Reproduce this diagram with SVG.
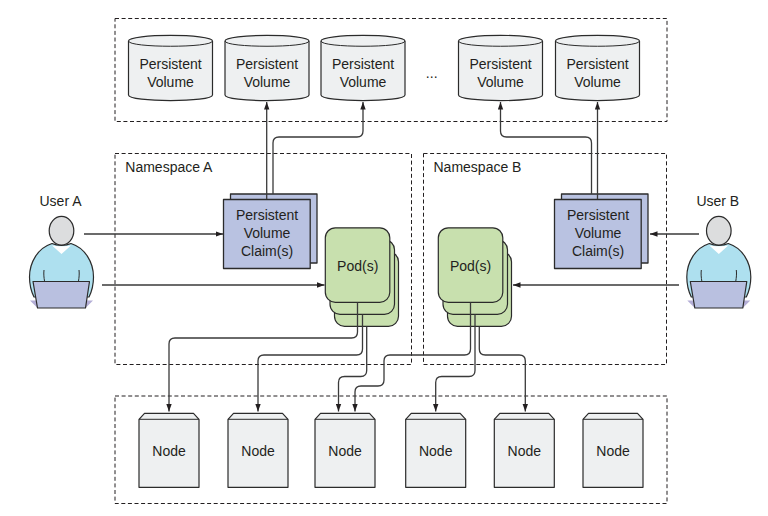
<svg xmlns="http://www.w3.org/2000/svg" width="768" height="516" viewBox="0 0 768 516">
<style>
text{font-family:"Liberation Sans",Arial,sans-serif;font-size:14px;fill:#231f20;text-anchor:middle}
.zone{fill:none;stroke:#231f20;stroke-width:1;stroke-dasharray:4 2.6}
.zl{text-anchor:start}
.shape{stroke:#2b2b2b;stroke-width:1.2;stroke-linejoin:round}
.cyl{fill:#eef0f1}
.pvc{fill:#b9c2e1;stroke-width:1.3}
.pod{fill:#c8e0ae}
.box{fill:#eef0f1}
.c{fill:none;stroke:#3a3a3a;stroke-width:1.3;marker-end:url(#a)}
.head{fill:#dcddde}
.body{fill:#aee0ef}
.lap{fill:#b9c0e0}
.tri{fill:#b4aed6}
.thin{fill:none;stroke:#2b2b2b;stroke-width:1}
</style>
<defs>
<marker id="a" markerUnits="userSpaceOnUse" markerWidth="8" markerHeight="6" refX="7.5" refY="3" orient="auto"><path d="M0 0.3L7.5 3L0 5.7Z" fill="#231f20"/></marker>
<g id="cylinder"><path class="shape cyl" d="M0 6C0 -1.5 84 -1.5 84 6V60C84 67.5 0 67.5 0 60Z"/><path class="thin" d="M0 6C0 13 84 13 84 6"/></g>
<g id="nodebox"><path class="shape box" d="M0 6L5.500 0H54.500L60 6V74H0Z"/><path class="thin" d="M0 6H60"/></g>
<g id="stack"><rect class="shape pod" x="9.200" y="24" width="64" height="74.500" rx="10"/><rect class="shape pod" x="4.700" y="12" width="64.500" height="74.500" rx="10"/><rect class="shape pod" x="0" y="0" width="64.500" height="74.500" rx="10"/></g>
<g id="claim"><rect class="shape pvc" x="7" y="-5.500" width="86.500" height="69"/><rect class="shape pvc" x="0" y="0" width="86.700" height="69"/></g>
<g id="person">
<path class="shape tri" style="stroke:none" d="M30 300.500H37.500V308ZM93 300.500H85.500V308Z"/>
<path class="shape body" d="M52 243.500C38 248 29.500 262 29.500 277C29.500 284 31 291 34 297H89C92 291 93.500 284 93.500 277C93.500 262 85 248 71 243.500C66 246 57 246 52 243.500Z"/>
<path d="M52 245.500L61.500 254L71 245.500C66 246.500 57 246.500 52 245.500Z" fill="#fff"/>
<ellipse class="shape head" cx="61.500" cy="230.700" rx="12.300" ry="14.300"/>
<path class="thin" d="M44 270C43.500 274 44 278 44.500 281M79 270C79.500 274 79 278 78.500 281"/>
<path class="shape lap" d="M33 281.500H89.500L85.500 308H37.500Z"/>
</g>
</defs>
<g id="pv-zone"><rect class="zone" x="115" y="18.500" width="552" height="103"/></g>
<g id="namespace-a"><rect class="zone" x="115" y="153.500" width="296.500" height="211"/><text class="zl" x="125.300" y="172">Namespace A</text></g>
<g id="namespace-b"><rect class="zone" x="423.500" y="153.500" width="243" height="211"/><text class="zl" x="433.500" y="172">Namespace B</text></g>
<g id="node-zone"><rect class="zone" x="115" y="396" width="552" height="107.500"/></g>
<g id="pv1"><use href="#cylinder" x="128.500" y="35"/><text x="170.500" y="69">Persistent</text><text x="170.500" y="87">Volume</text></g>
<g id="pv2"><use href="#cylinder" x="225" y="35"/><text x="267" y="69">Persistent</text><text x="267" y="87">Volume</text></g>
<g id="pv3"><use href="#cylinder" x="321" y="35"/><text x="363" y="69">Persistent</text><text x="363" y="87">Volume</text></g>
<text id="ellipsis" x="431.700" y="78">...</text>
<g id="pv4"><use href="#cylinder" x="458.500" y="35"/><text x="500.500" y="69">Persistent</text><text x="500.500" y="87">Volume</text></g>
<g id="pv5"><use href="#cylinder" x="555.500" y="35"/><text x="597.500" y="69">Persistent</text><text x="597.500" y="87">Volume</text></g>
<g id="claim-a"><use href="#claim" x="223.500" y="199.500"/><text x="267" y="220">Persistent</text><text x="267" y="238">Volume</text><text x="267" y="256">Claim(s)</text></g>
<g id="claim-b"><use href="#claim" x="554.500" y="199.500"/><text x="598" y="220">Persistent</text><text x="598" y="238">Volume</text><text x="598" y="256">Claim(s)</text></g>
<g id="pods-a"><use href="#stack" x="325.300" y="227.800"/><text x="357.700" y="271">Pod(s)</text></g>
<g id="pods-b"><use href="#stack" x="438.300" y="227.800"/><text x="470.500" y="271">Pod(s)</text></g>
<g id="node1"><use href="#nodebox" x="139" y="413.300"/><text x="169" y="456">Node</text></g>
<g id="node2"><use href="#nodebox" x="228" y="413.300"/><text x="258" y="456">Node</text></g>
<g id="node3"><use href="#nodebox" x="315" y="413.300"/><text x="345" y="456">Node</text></g>
<g id="node4"><use href="#nodebox" x="405.700" y="413.300"/><text x="435.700" y="456">Node</text></g>
<g id="node5"><use href="#nodebox" x="494.300" y="413.300"/><text x="524.300" y="456">Node</text></g>
<g id="node6"><use href="#nodebox" x="583" y="413.300"/><text x="613" y="456">Node</text></g>
<g id="user-a"><use href="#person"/><text x="60.500" y="206">User A</text></g>
<g id="user-b"><use href="#person" x="657.300"/><text x="717.800" y="206">User B</text></g>
<g id="connectors">
<path class="c" d="M266.700 199V102"/>
<path class="c" d="M273 194V143Q273 137 279 137H357Q363 137 363 131V102"/>
<path class="c" d="M597.500 199V102"/>
<path class="c" d="M591.500 194V143Q591.500 137 585.500 137H506.500Q500.500 137 500.500 131V102"/>
<path class="c" d="M84 234H223"/>
<path class="c" d="M102 285H324.500"/>
<path class="c" d="M699 234H650"/>
<path class="c" d="M679 285H513"/>
<path class="c" d="M357.500 302.500V332Q357.500 338 351.500 338H175Q169 338 169 344V411.500"/>
<path class="c" d="M362.500 314.500V349Q362.500 355 356.500 355H264Q258 355 258 361V411.500"/>
<path class="c" d="M366.700 326.500V370.500Q366.700 376.500 360.700 376.500H344.500Q338.500 376.500 338.500 382.500V411.500"/>
<path class="c" d="M470.500 302.500V349Q470.500 355 464.500 355H390Q384 355 384 361V380Q384 386 378 386H361Q355 386 355 392V411.500"/>
<path class="c" d="M475 314.500V370.500Q475 376.500 469 376.500H441.700Q435.700 376.500 435.700 382.500V411.500"/>
<path class="c" d="M479.300 326.500V349Q479.300 355 485.300 355H519.300Q525.300 355 525.300 361V411.500"/>
</g>
</svg>
